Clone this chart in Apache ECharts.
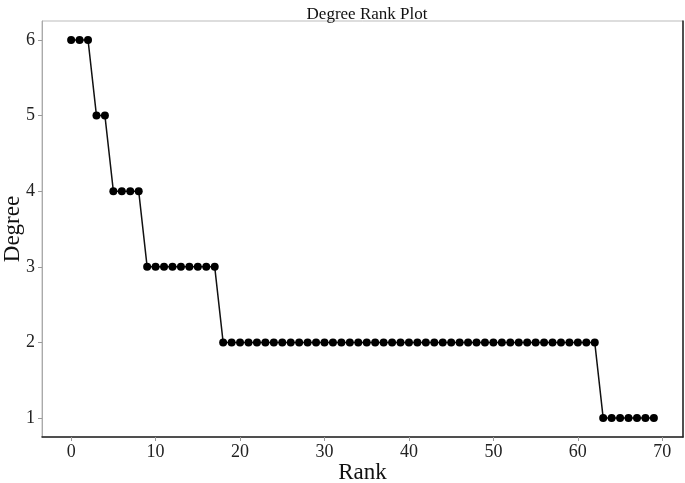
<!DOCTYPE html>
<html>
<head>
<meta charset="utf-8">
<script src="https://cdn.jsdelivr.net/npm/echarts@6/dist/echarts.min.js"></script>
<style>
  html, body { margin: 0; padding: 0; background: #fff; }
  #chart { width: 685px; height: 483px; }
</style>
</head>
<body>
<div id="chart"></div>
<script>
var ranks = [];
for (var i = 0; i < 70; i++) ranks.push(i);

// degree per rank
var degrees = [
  6, 6, 6,
  5, 5,
  4, 4, 4, 4,
  3, 3, 3, 3, 3, 3, 3, 3, 3,
  2, 2, 2, 2, 2, 2, 2, 2, 2, 2, 2, 2, 2, 2, 2, 2, 2, 2, 2, 2, 2, 2, 2,
  2, 2, 2, 2, 2, 2, 2, 2, 2, 2, 2, 2, 2, 2, 2, 2, 2, 2, 2, 2, 2, 2,
  1, 1, 1, 1, 1, 1, 1
];

var xTicks = [0, 10, 20, 30, 40, 50, 60, 70];
var yTicks = [1, 2, 3, 4, 5, 6];

var font = 'Liberation Serif';
var chart = echarts.init(document.getElementById('chart'));

var points = ranks.map(function (r, i) { return [r, degrees[i]]; });

chart.setOption({
  animation: false,
  title: {
    text: 'Degree Rank Plot',
    left: 362, textAlign: 'center',
    top: 1,
    textStyle: { fontFamily: font, fontSize: 17, fontWeight: 'normal', color: '#111' }
  },
  grid: {
    left: 42, right: 2, top: 21, bottom: 46,
    outerBoundsMode: 'none',
    containLabel: false,
    show: true, borderColor: '#bbb', borderWidth: 1
  },
  xAxis: {
    type: 'value',
    min: -3.45, max: 72.45,
    name: 'Rank',
    nameLocation: 'middle',
    nameGap: 24,
    nameMoveOverlap: false,
    nameTextStyle: { fontFamily: font, fontSize: 23, color: '#111' },
    splitLine: { show: false },
    axisLine: { onZero: false, lineStyle: { color: '#222', width: 1.5 } },
    axisTick: { customValues: xTicks, length: 4, lineStyle: { color: '#999' } },
    axisLabel: { customValues: xTicks, fontFamily: font, fontSize: 18, color: '#222', margin: 6 }
  },
  yAxis: [{
    type: 'value',
    min: 0.75, max: 6.25,
    name: 'Degree',
    nameLocation: 'middle',
    nameGap: 18,
    nameMoveOverlap: false,
    nameTextStyle: { fontFamily: font, fontSize: 23, color: '#111' },
    splitLine: { show: false },
    axisLine: { show: true, onZero: false, lineStyle: { color: '#aaa', width: 1 } },
    axisTick: { show: true, customValues: yTicks, length: 4, lineStyle: { color: '#999' } },
    axisLabel: { customValues: yTicks, fontFamily: font, fontSize: 18, color: '#222', margin: 7 }
  }, {
    type: 'value',
    position: 'right',
    min: 0.75, max: 6.25,
    splitLine: { show: false },
    axisLine: { show: true, onZero: false, lineStyle: { color: '#222', width: 1.5 } },
    axisTick: { show: false },
    axisLabel: { show: false }
  }],
  series: [{
    type: 'line',
    data: points,
    symbol: 'circle',
    symbolSize: 8,
    showAllSymbol: true,
    lineStyle: { color: '#111', width: 1.5 },
    itemStyle: { color: '#000' }
  }]
});
</script>
</body>
</html>
